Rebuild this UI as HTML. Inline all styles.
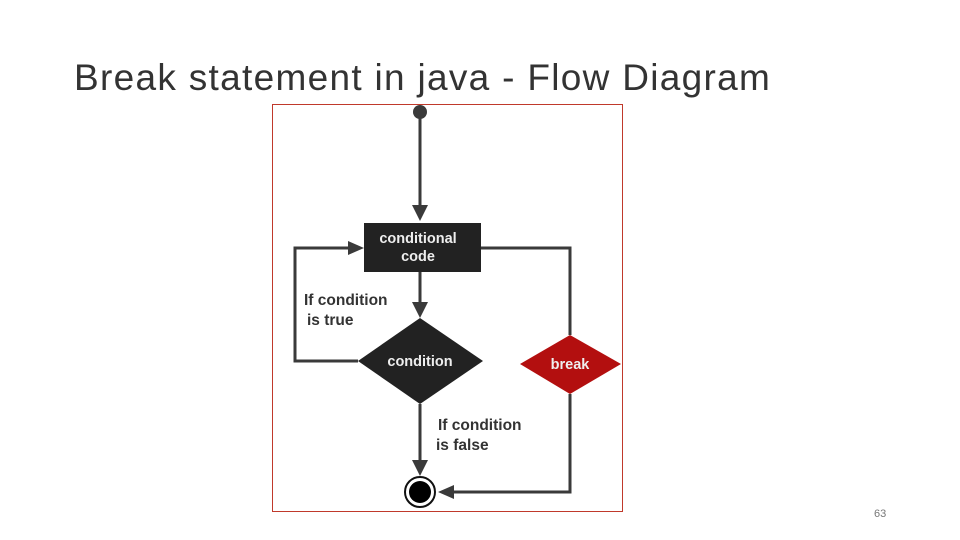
<!DOCTYPE html>
<html><head><meta charset="utf-8"><style>
body{margin:0;width:960px;height:540px;background:#fff;position:relative;overflow:hidden;font-family:"Liberation Sans",sans-serif}
.t{position:absolute;left:74px;top:57px;font-size:37px;color:#333;white-space:nowrap;letter-spacing:1.3px}
.n{position:absolute;left:874px;top:508px;font-size:11px;color:#777}
</style></head><body>
<div class="t">Break statement in java - Flow Diagram</div>
<svg width="960" height="540" style="position:absolute;left:0;top:0" font-family="Liberation Sans, sans-serif" font-weight="bold">
<rect x="272.5" y="104.5" width="350" height="407" fill="none" stroke="#c0392b" stroke-width="1"/>
<g stroke="#3a3a3a" stroke-width="3" fill="none">
<line x1="420" y1="112" x2="420" y2="208"/>
<line x1="420" y1="272" x2="420" y2="304"/>
<polyline points="358,361 295,361 295,248 350,248"/>
<polyline points="481,248 570,248 570,335"/>
<line x1="420" y1="404" x2="420" y2="462"/>
<polyline points="570,394 570,492 452,492"/>
</g>
<g fill="#3a3a3a">
<polygon points="412,205 428,205 420,221"/>
<polygon points="412,302 428,302 420,318"/>
<polygon points="348,241 348,255 364,248"/>
<polygon points="412,460 428,460 420,476"/>
<polygon points="454,485 454,499 438,492"/>
</g>
<circle cx="420" cy="112" r="7" fill="#3a3a3a"/>
<rect x="364" y="223" width="117" height="49" fill="#222"/>
<text x="418" y="243" fill="#eee" font-size="14.5" text-anchor="middle">conditional</text>
<text x="418" y="261" fill="#eee" font-size="14.5" text-anchor="middle">code</text>
<polygon points="420,318 483,361 420,404 358,361" fill="#222"/>
<text x="420" y="366" fill="#eee" font-size="14.5" text-anchor="middle">condition</text>
<polygon points="570,335 621,364 570,394 520,364" fill="#b30f0f"/>
<text x="570" y="369" fill="#eee" font-size="14.5" text-anchor="middle">break</text>
<text x="304" y="305" fill="#333" font-size="15.5">If condition</text>
<text x="307" y="325" fill="#333" font-size="15.5">is true</text>
<text x="438" y="430" fill="#333" font-size="15.5">If condition</text>
<text x="436" y="450" fill="#333" font-size="15.5">is false</text>
<circle cx="420" cy="492" r="15" fill="#fff" stroke="#111" stroke-width="2"/>
<circle cx="420" cy="492" r="11" fill="#000"/>
</svg>
<div class="n">63</div>
</body></html>
